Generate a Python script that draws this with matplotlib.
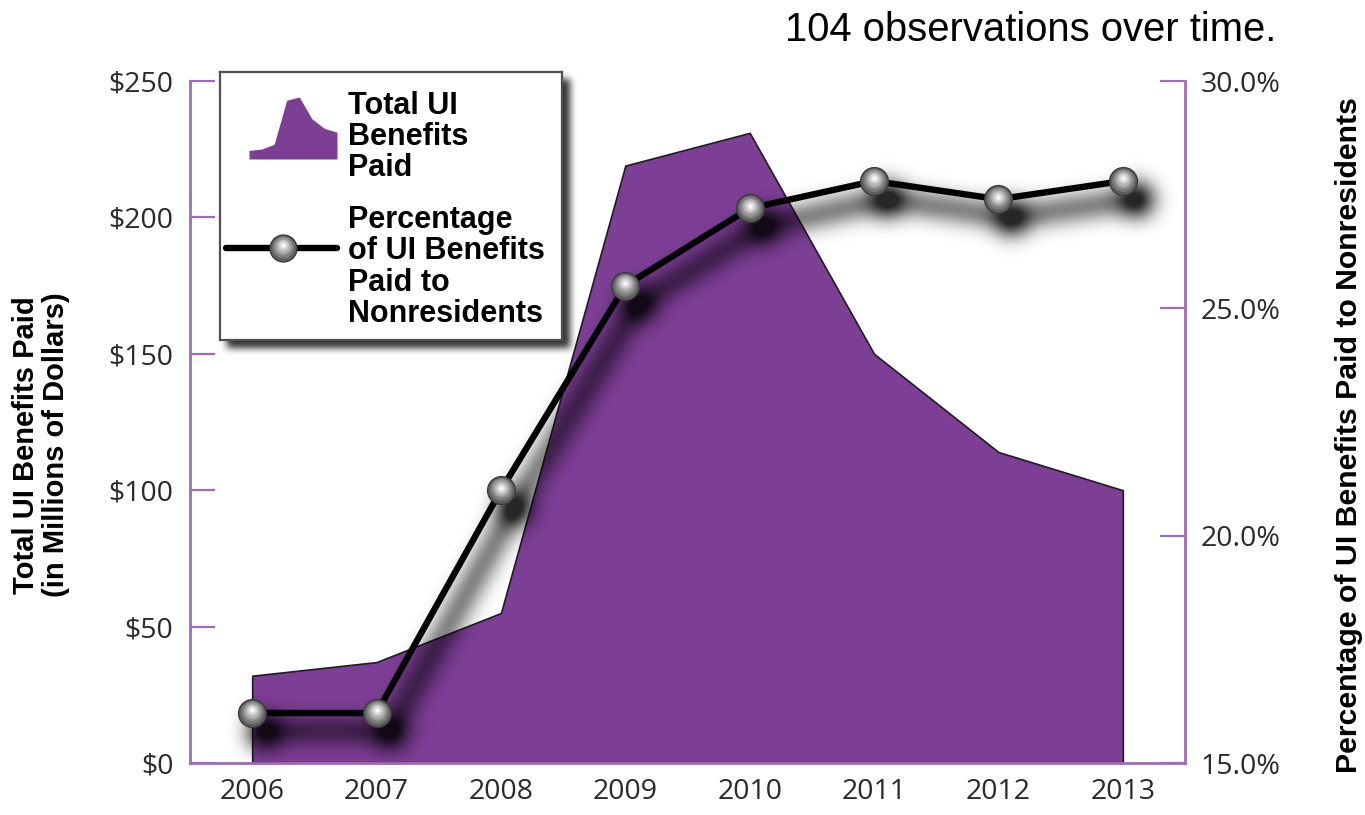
import numpy as np
import matplotlib
matplotlib.use("Agg")
import matplotlib.pyplot as plt
import matplotlib.transforms as mtransforms
from matplotlib import font_manager as fm
from matplotlib.patches import Rectangle

# ---- data -------------------------------------------------------------
years = ["2006", "2007", "2008", "2009", "2010", "2011", "2012", "2013"]
benefits_paid = [32, 37, 55, 219, 231, 150, 114, 100]           # $ millions
nonresident_share = [16.1, 16.1, 21.0, 25.5, 27.2, 27.8, 27.4, 27.8]  # percent

left_ticks = [0, 50, 100, 150, 200, 250]
left_tick_labels = ["$0", "$50", "$100", "$150", "$200", "$250"]
right_ticks = [15, 20, 25, 30]
right_tick_labels = ["15.0%", "20.0%", "25.0%", "30.0%"]

# ---- style ------------------------------------------------------------
PURPLE = "#7d3e96"
AXIS_PURPLE = "#9c6cbf"
TICK_TEXT = "#2a2a2a"
W, H, DPI = 13.65, 8.15, 100
FIG_W, FIG_H = 1365, 815
AX_RECT = [190 / FIG_W, 1 - 763 / FIG_H, 995 / FIG_W, 682 / FIG_H]


def pick(families, weight="normal"):
    for fam in families:
        try:
            fm.findfont(fm.FontProperties(family=fam, weight=weight),
                        fallback_to_default=False)
            return fam
        except Exception:
            continue
    return "DejaVu Sans"


TICK_FONT = pick(["Open Sans", "Noto Sans", "Liberation Sans"])
BOLD_FONT = pick(["Liberation Sans", "Noto Sans"], weight="bold")
NOTE_FONT = pick(["Liberation Sans", "DejaVu Sans"])

x = np.arange(len(years))
XLIM = (-0.5, len(years) - 0.5)
LINE_W = 4.6
MARKER_SIZE = 21
TICK_SIZE = 20.5


def fig_px(px, py):
    """Figure-fraction coordinates from pixel position measured from top-left."""
    return px / FIG_W, 1 - py / FIG_H


def gaussian_blur(a, sigma):
    r = int(3 * sigma)
    k = np.exp(-0.5 * (np.arange(-r, r + 1) / sigma) ** 2)
    k /= k.sum()
    a = np.apply_along_axis(lambda v: np.convolve(v, k, mode="same"), 0, a)
    a = np.apply_along_axis(lambda v: np.convolve(v, k, mode="same"), 1, a)
    return a


def shift(a, dx, dy):
    out = np.zeros_like(a)
    out[dy:, dx:] = a[:a.shape[0] - dy, :a.shape[1] - dx]
    return out


def render_alpha(draw):
    """Render black artists on a transparent canvas and return the alpha mask."""
    sfig = plt.figure(figsize=(W, H), dpi=DPI)
    sfig.patch.set_alpha(0)
    draw(sfig)
    sfig.canvas.draw()
    alpha = np.asarray(sfig.canvas.buffer_rgba())[..., 3].astype(float) / 255.0
    plt.close(sfig)
    return alpha


def draw_line_mask(sfig):
    sax = sfig.add_axes(AX_RECT)
    sax.patch.set_alpha(0)
    sax.set_xlim(*XLIM)
    sax.set_ylim(15, 30)
    sax.axis("off")
    sax.plot(x, nonresident_share, color="black", lw=LINE_W + 2)
    sax.plot(x, nonresident_share, ls="none", marker="o", ms=MARKER_SIZE,
             mfc="black", mec="none")


LEG_X0, LEG_Y0, LEG_X1, LEG_Y1 = 220, 72, 562, 340


def draw_legend_mask(sfig):
    x0, y1 = fig_px(LEG_X0, LEG_Y1)
    sfig.add_artist(Rectangle((x0, y1), (LEG_X1 - LEG_X0) / FIG_W,
                              (LEG_Y1 - LEG_Y0) / FIG_H,
                              transform=sfig.transFigure, color="black"))


def draw_spheres(a, xs, ys, ms, zorder, transform_base):
    layers = [(1.00, "#3a3a3a", 0.00), (0.91, "#5e5e5e", 0.00),
              (0.78, "#7a7a7a", 0.03), (0.64, "#969696", 0.06),
              (0.50, "#b3b3b3", 0.08), (0.36, "#cecece", 0.09),
              (0.22, "#e8e8e8", 0.09), (0.10, "#fbfbfb", 0.09)]
    for frac, col, up in layers:
        tr = mtransforms.offset_copy(transform_base, fig=a.figure, x=0,
                                     y=up * ms, units="points")
        a.plot(xs, ys, ls="none", marker="o", ms=ms * frac, mfc=col,
               mec="none", transform=tr, zorder=zorder)


# ---- figure -----------------------------------------------------------
fig = plt.figure(figsize=(W, H), dpi=DPI, facecolor="white")
ax = fig.add_axes(AX_RECT)
ax.set_zorder(0)

ax.fill_between(x, 0, benefits_paid, facecolor=PURPLE, edgecolor="#1e1e1e",
                linewidth=1.2, zorder=1)
ax.set_xlim(*XLIM)
ax.set_ylim(0, 250)
ax.set_yticks(left_ticks)
ax.set_yticklabels(left_tick_labels)
ax.set_xticks(x)
ax.set_xticklabels(years)
for side in ("top", "right"):
    ax.spines[side].set_visible(False)
for side in ("left", "bottom"):
    ax.spines[side].set_color(AXIS_PURPLE)
    ax.spines[side].set_linewidth(2)
    ax.spines[side].set_zorder(3)
ax.tick_params(axis="y", direction="in", length=18, width=1.6,
               color=AXIS_PURPLE, pad=12, labelsize=TICK_SIZE,
               labelcolor=TICK_TEXT)
ax.tick_params(axis="x", length=0, pad=11, labelsize=TICK_SIZE,
               labelcolor=TICK_TEXT)
for lab in ax.get_xticklabels() + ax.get_yticklabels():
    lab.set_fontfamily(TICK_FONT)

ax2 = ax.twinx()
ax2.set_zorder(2)
ax2.set_ylim(15, 30)
ax2.set_xlim(*XLIM)
ax2.set_yticks(right_ticks)
ax2.set_yticklabels(right_tick_labels)
for side in ("top", "left", "bottom"):
    ax2.spines[side].set_visible(False)
ax2.spines["right"].set_color(AXIS_PURPLE)
ax2.spines["right"].set_linewidth(2)
ax2.tick_params(axis="y", direction="in", length=18, width=1.6,
                color=AXIS_PURPLE, pad=11, labelsize=TICK_SIZE,
                labelcolor=TICK_TEXT)
for lab in ax2.get_yticklabels():
    lab.set_fontfamily(TICK_FONT)

ax2.plot(x, nonresident_share, color="black", lw=LINE_W,
         solid_joinstyle="round", zorder=3)
draw_spheres(ax2, x, nonresident_share, MARKER_SIZE, 4, ax2.transData)

# ---- soft drop shadows -------------------------------------------------
line_shadow = shift(gaussian_blur(render_alpha(draw_line_mask), 11), 13, 18) * 1.5
box_shadow = shift(gaussian_blur(render_alpha(draw_legend_mask), 3.5), 7, 7) * 0.8
shadow = np.clip(line_shadow + box_shadow, 0, 0.85)
rgba = np.zeros(shadow.shape + (4,))
rgba[..., 3] = shadow
fig.figimage(rgba, 0, 0, zorder=1, origin="upper")

# ---- axis titles -------------------------------------------------------
lx, ly = fig_px(41, 445)
fig.text(lx, ly, "Total UI Benefits Paid\n(in Millions of Dollars)",
         rotation=90, ha="center", va="center", multialignment="center",
         fontsize=21, fontweight="bold", family=BOLD_FONT, linespacing=1.12,
         color="black")
rx, ry = fig_px(1349, 435)
fig.text(rx, ry, "Percentage of UI Benefits Paid to Nonresidents",
         rotation=90, ha="center", va="center", fontsize=21.8,
         fontweight="bold", family=BOLD_FONT, color="black")

nx, ny = fig_px(1276, 30)
fig.text(nx, ny, "104 observations over time.", ha="right", va="center",
         fontsize=28.8, family=NOTE_FONT, color="black")

# ---- legend -----------------------------------------------------------
lx0, ly1 = fig_px(LEG_X0, LEG_Y1)
lax = fig.add_axes([lx0, ly1, (LEG_X1 - LEG_X0) / FIG_W,
                    (LEG_Y1 - LEG_Y0) / FIG_H])
lax.set_zorder(5)
lax.set_xlim(LEG_X0, LEG_X1)
lax.set_ylim(LEG_Y1, LEG_Y0)
lax.set_xticks([])
lax.set_yticks([])
for sp in lax.spines.values():
    sp.set_color("#505050")
    sp.set_linewidth(1.6)

ix0, iy1 = fig_px(249, 159)
iax = fig.add_axes([ix0, iy1, 88 / FIG_W, 62 / FIG_H])
iax.set_zorder(6)
iax.fill_between(x, 0, benefits_paid, color=PURPLE, lw=0)
iax.set_xlim(x[0], x[-1])
iax.set_ylim(0, max(benefits_paid))
iax.axis("off")

lax.text(348, 137, "Total UI\nBenefits\nPaid", ha="left", va="center",
         fontsize=22, fontweight="bold", family=BOLD_FONT, linespacing=1.05)
lax.text(348, 267, "Percentage\nof UI Benefits\nPaid to\nNonresidents",
         ha="left", va="center", fontsize=22, fontweight="bold",
         family=BOLD_FONT, linespacing=1.05)
lax.plot([226, 337], [248, 248], color="black", lw=LINE_W,
         solid_capstyle="round", zorder=3)
draw_spheres(lax, [283], [248], MARKER_SIZE * 0.97, 4, lax.transData)

fig.savefig("out.png", dpi=DPI, facecolor="white")
